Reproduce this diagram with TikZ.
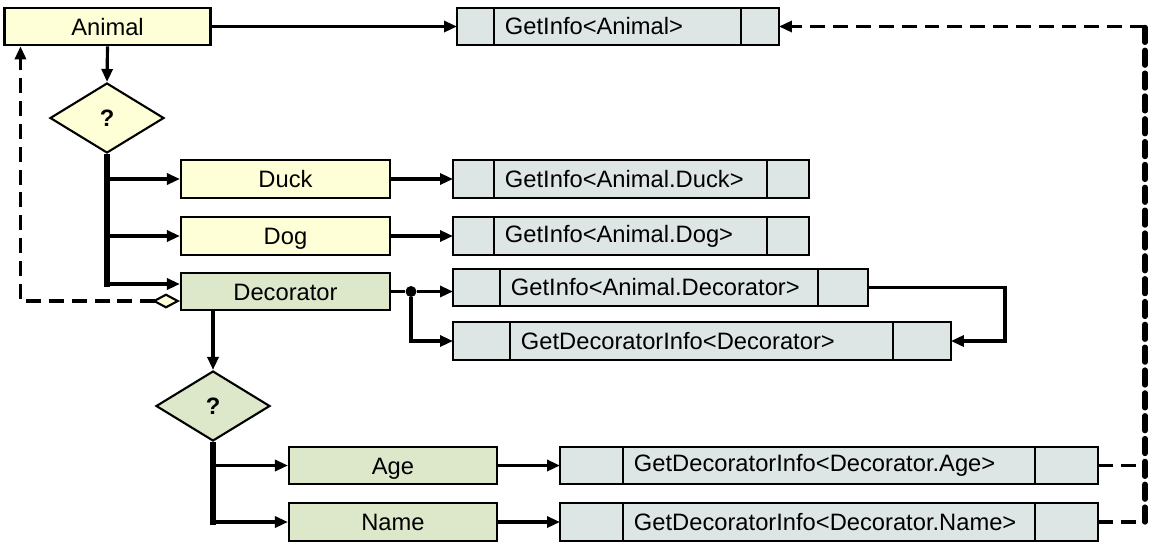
\documentclass[tikz,border=0pt]{standalone}
\usepackage{fontspec}
\setmainfont{Liberation Sans}
\usepackage{tikz}
\usetikzlibrary{positioning, shapes.geometric, arrows.meta}

\definecolor{animalfill}{HTML}{FFFFD7}
\definecolor{decofill}{HTML}{DDE8CB}
\definecolor{callfill}{HTML}{DEE6E5}

\begin{document}
\begin{tikzpicture}[x=0.02cm, y=-0.02cm,
    font=\fontsize{13.5}{16}\selectfont,
    typebox/.style={draw, line width=1.2pt, fill=animalfill, minimum height=0.75cm, inner sep=0pt, text height=9.7pt, text depth=0pt},
    callcell/.style={draw, line width=1.2pt, fill=callfill, minimum height=0.75cm, inner sep=0pt, outer sep=0pt},
    calltext/.style={callcell, inner xsep=0.22cm, align=left},
    choice/.style={diamond, draw, line width=1.2pt, minimum width=2.28cm, minimum height=1.4cm, inner sep=0pt, font=\fontsize{13.5}{16}\selectfont\bfseries},
    link/.style={line width=1.8pt, -{Triangle[length=0.26cm, width=0.22cm]}},
    trunk/.style={line width=3.6pt},
    backlink/.style={line width=1.8pt, dash pattern=on 8.5pt off 4.5pt}]
    \useasboundingbox (0,0) rectangle (1158,549);

    \node[typebox, minimum width=4.12cm] (animal) at (107.5,26.5) {Animal};
    \node[choice, fill=animalfill] (q1) at (107,118) {?};
    \node[typebox, minimum width=4.18cm] (duck) at (285.5,179) {Duck};
    \node[typebox, minimum width=4.18cm] (dog) at (285.5,236) {Dog};
    \node[typebox, fill=decofill, minimum width=4.18cm] (deco) at (285.5,291.5) {Decorator};
    \node[choice, fill=decofill] (q2) at (213,406) {?};
    \node[typebox, fill=decofill, minimum width=4.16cm] (age) at (393,465.5) {Age};
    \node[typebox, fill=decofill, minimum width=4.16cm] (name) at (393,522) {Name};

    \node[callcell, anchor=west, minimum width=0.74cm] (gA-l) at (457,26.5) {};
    \node[calltext, text width=4.50cm, right=0pt of gA-l] (gA-m) {GetInfo<Animal>};
    \node[callcell, minimum width=0.76cm, right=0pt of gA-m] (gA-r) {};

    \node[callcell, anchor=west, minimum width=0.82cm] (gDuck-l) at (453,179) {};
    \node[calltext, text width=5.02cm, right=0pt of gDuck-l] (gDuck-m) {GetInfo<Animal.Duck>};
    \node[callcell, minimum width=0.84cm, right=0pt of gDuck-m] (gDuck-r) {};

    \node[callcell, anchor=west, minimum width=0.82cm] (gDog-l) at (453,236) {};
    \node[calltext, text width=5.02cm, right=0pt of gDog-l] (gDog-m) {GetInfo<Animal.Dog>};
    \node[callcell, minimum width=0.84cm, right=0pt of gDog-m] (gDog-r) {};

    \node[callcell, anchor=west, minimum width=0.94cm] (gDec-l) at (453,287.5) {};
    \node[calltext, text width=5.92cm, right=0pt of gDec-l] (gDec-m) {GetInfo<Animal.Decorator>};
    \node[callcell, minimum width=1.0cm, right=0pt of gDec-m] (gDec-r) {};

    \node[callcell, anchor=west, minimum width=1.14cm] (gDi-l) at (453,341) {};
    \node[calltext, text width=7.22cm, right=0pt of gDi-l] (gDi-m) {GetDecoratorInfo<Decorator>};
    \node[callcell, minimum width=1.16cm, right=0pt of gDi-m] (gDi-r) {};

    \node[callcell, anchor=west, minimum width=1.26cm] (gAge-l) at (560,465.5) {};
    \node[calltext, text width=7.80cm, right=0pt of gAge-l] (gAge-m) {GetDecoratorInfo<Decorator.Age>};
    \node[callcell, minimum width=1.26cm, right=0pt of gAge-m] (gAge-r) {};

    \node[callcell, anchor=west, minimum width=1.26cm] (gName-l) at (560,522) {};
    \node[calltext, text width=7.80cm, right=0pt of gName-l] (gName-m) {GetDecoratorInfo<Decorator.Name>};
    \node[callcell, minimum width=1.26cm, right=0pt of gName-m] (gName-r) {};

    \node[circle, fill=black, inner sep=0pt, minimum size=0.22cm] (fork) at (411,291.5) {};
    \coordinate (decoin) at ([yshift=0.15cm]deco.west);
    \coordinate (decoout) at ([yshift=-0.19cm]deco.west);
    \coordinate (bustop) at (1145,26.5);
    \coordinate (busbot) at (1145,522);

    \draw[link] (animal.east) -- (gA-l.west);
    \draw[link] (animal.south) -- (q1.north);
    \draw[trunk] (q1.south) -- ([yshift=-1.5pt]q1.south |- decoin);
    \draw[link] (q1.south |- duck.west) -- (duck.west);
    \draw[link] (q1.south |- dog.west) -- (dog.west);
    \draw[link] (q1.south |- decoin) -- (decoin);
    \draw[link] (duck.east) -- (gDuck-l.west);
    \draw[link] (dog.east) -- (gDog-l.west);

    \draw[line width=1.8pt] (deco.east) -- (fork);
    \draw[link] (fork) -- (fork -| gDec-l.west);
    \draw[link] (fork) |- (gDi-l.west);
    \draw[link] (gDec-r.east) -- ++(137,0) |- (gDi-r.east);

    \draw[backlink, {Diamond[fill=animalfill, length=0.56cm, width=0.3cm, line width=1.2pt]}-{Triangle[length=0.26cm, width=0.22cm]}] (decoout) -| ([xshift=0.34cm]animal.south west);

    \draw[link] (q2.north |- deco.south) -- (q2.north);
    \draw[trunk] (q2.south) -- ([yshift=-1.5pt]q2.south |- name.west);
    \draw[link] (q2.south |- age.west) -- (age.west);
    \draw[link] (q2.south |- name.west) -- (name.west);
    \draw[link] (age.east) -- (gAge-l.west);
    \draw[link] (name.east) -- (gName-l.west);

    \draw[backlink] (gAge-r.east) -- (gAge-r.east -| busbot);
    \draw[backlink] (gName-r.east) -- (busbot);
    \draw[backlink, line width=3pt, line cap=round] (busbot) -- (bustop);
    \draw[backlink, -{Triangle[length=0.26cm, width=0.22cm]}] (bustop) -- (gA-r.east);
\end{tikzpicture}
\end{document}
